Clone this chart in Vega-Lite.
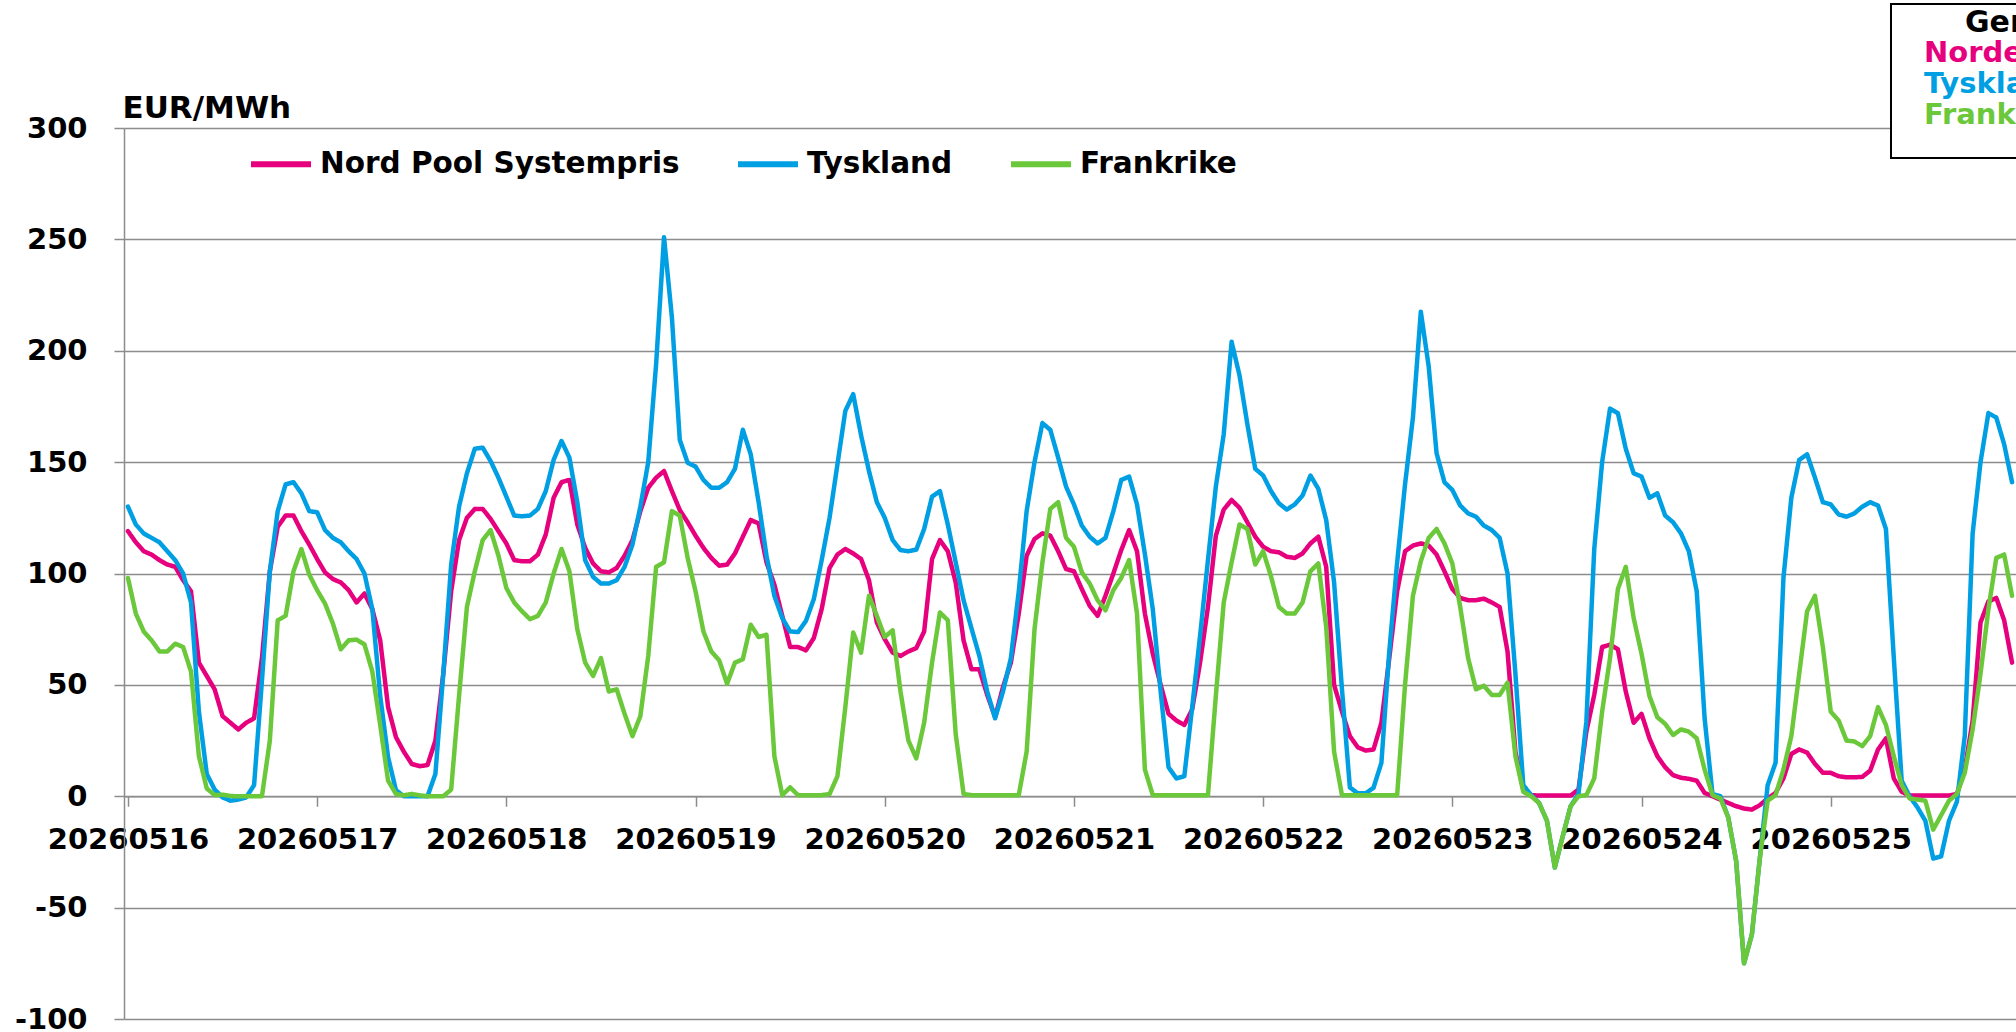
{
"$schema": "https://vega.github.io/schema/vega-lite/v6.json",
"autosize": {"type": "none"},
"padding": {"left": 124, "top": 128, "right": 0, "bottom": 13},
"width": 1892,
"height": 891,
"background": "white",
"config": {"view": {"stroke": null}, "font": "DejaVu Sans"},
"data": {"values": [
{"tid":"2026-05-16T00:00","Nord Pool Systempris":119,"Tyskland":130,"Frankrike":98},
{"tid":"2026-05-16T01:00","Nord Pool Systempris":114,"Tyskland":122,"Frankrike":82},
{"tid":"2026-05-16T02:00","Nord Pool Systempris":110,"Tyskland":118,"Frankrike":74},
{"tid":"2026-05-16T03:00","Nord Pool Systempris":108.5,"Tyskland":116,"Frankrike":70},
{"tid":"2026-05-16T04:00","Nord Pool Systempris":106,"Tyskland":114,"Frankrike":65},
{"tid":"2026-05-16T05:00","Nord Pool Systempris":104,"Tyskland":110,"Frankrike":65},
{"tid":"2026-05-16T06:00","Nord Pool Systempris":103,"Tyskland":106,"Frankrike":68.5},
{"tid":"2026-05-16T07:00","Nord Pool Systempris":97,"Tyskland":100,"Frankrike":67},
{"tid":"2026-05-16T08:00","Nord Pool Systempris":92,"Tyskland":87,"Frankrike":56},
{"tid":"2026-05-16T09:00","Nord Pool Systempris":60,"Tyskland":38,"Frankrike":18},
{"tid":"2026-05-16T10:00","Nord Pool Systempris":54,"Tyskland":10,"Frankrike":3.5},
{"tid":"2026-05-16T11:00","Nord Pool Systempris":48,"Tyskland":3,"Frankrike":0.5},
{"tid":"2026-05-16T12:00","Nord Pool Systempris":36,"Tyskland":-0.5,"Frankrike":0.7},
{"tid":"2026-05-16T13:00","Nord Pool Systempris":33,"Tyskland":-2,"Frankrike":0.1},
{"tid":"2026-05-16T14:00","Nord Pool Systempris":30,"Tyskland":-1.5,"Frankrike":0},
{"tid":"2026-05-16T15:00","Nord Pool Systempris":33,"Tyskland":-0.5,"Frankrike":0},
{"tid":"2026-05-16T16:00","Nord Pool Systempris":35,"Tyskland":5,"Frankrike":0},
{"tid":"2026-05-16T17:00","Nord Pool Systempris":62,"Tyskland":52,"Frankrike":0},
{"tid":"2026-05-16T18:00","Nord Pool Systempris":101,"Tyskland":101,"Frankrike":25},
{"tid":"2026-05-16T19:00","Nord Pool Systempris":121,"Tyskland":128,"Frankrike":79},
{"tid":"2026-05-16T20:00","Nord Pool Systempris":126,"Tyskland":140,"Frankrike":81},
{"tid":"2026-05-16T21:00","Nord Pool Systempris":126,"Tyskland":141,"Frankrike":101},
{"tid":"2026-05-16T22:00","Nord Pool Systempris":119,"Tyskland":136,"Frankrike":111},
{"tid":"2026-05-16T23:00","Nord Pool Systempris":113,"Tyskland":128,"Frankrike":99.5},
{"tid":"2026-05-17T00:00","Nord Pool Systempris":106.5,"Tyskland":127.5,"Frankrike":92.5},
{"tid":"2026-05-17T01:00","Nord Pool Systempris":100.5,"Tyskland":119.5,"Frankrike":86.5},
{"tid":"2026-05-17T02:00","Nord Pool Systempris":97.5,"Tyskland":116,"Frankrike":77.5},
{"tid":"2026-05-17T03:00","Nord Pool Systempris":96,"Tyskland":114,"Frankrike":66},
{"tid":"2026-05-17T04:00","Nord Pool Systempris":92.5,"Tyskland":110,"Frankrike":70},
{"tid":"2026-05-17T05:00","Nord Pool Systempris":87,"Tyskland":106.5,"Frankrike":70.3},
{"tid":"2026-05-17T06:00","Nord Pool Systempris":91,"Tyskland":100,"Frankrike":68.2},
{"tid":"2026-05-17T07:00","Nord Pool Systempris":84,"Tyskland":84,"Frankrike":56},
{"tid":"2026-05-17T08:00","Nord Pool Systempris":70,"Tyskland":45,"Frankrike":32},
{"tid":"2026-05-17T09:00","Nord Pool Systempris":40,"Tyskland":17.5,"Frankrike":7},
{"tid":"2026-05-17T10:00","Nord Pool Systempris":26.5,"Tyskland":2.7,"Frankrike":1},
{"tid":"2026-05-17T11:00","Nord Pool Systempris":20,"Tyskland":0,"Frankrike":0.4},
{"tid":"2026-05-17T12:00","Nord Pool Systempris":14.5,"Tyskland":0,"Frankrike":1},
{"tid":"2026-05-17T13:00","Nord Pool Systempris":13.5,"Tyskland":0,"Frankrike":0.4},
{"tid":"2026-05-17T14:00","Nord Pool Systempris":14,"Tyskland":0,"Frankrike":0},
{"tid":"2026-05-17T15:00","Nord Pool Systempris":25,"Tyskland":10,"Frankrike":0},
{"tid":"2026-05-17T16:00","Nord Pool Systempris":55,"Tyskland":55,"Frankrike":0},
{"tid":"2026-05-17T17:00","Nord Pool Systempris":92,"Tyskland":104,"Frankrike":3},
{"tid":"2026-05-17T18:00","Nord Pool Systempris":115,"Tyskland":130,"Frankrike":45},
{"tid":"2026-05-17T19:00","Nord Pool Systempris":125,"Tyskland":145,"Frankrike":85},
{"tid":"2026-05-17T20:00","Nord Pool Systempris":129,"Tyskland":156,"Frankrike":101},
{"tid":"2026-05-17T21:00","Nord Pool Systempris":129,"Tyskland":156.5,"Frankrike":115},
{"tid":"2026-05-17T22:00","Nord Pool Systempris":124.5,"Tyskland":150.5,"Frankrike":119.5},
{"tid":"2026-05-17T23:00","Nord Pool Systempris":119,"Tyskland":143,"Frankrike":108},
{"tid":"2026-05-18T00:00","Nord Pool Systempris":113.5,"Tyskland":134.5,"Frankrike":93.5},
{"tid":"2026-05-18T01:00","Nord Pool Systempris":106,"Tyskland":126,"Frankrike":87},
{"tid":"2026-05-18T02:00","Nord Pool Systempris":105.5,"Tyskland":125.7,"Frankrike":83},
{"tid":"2026-05-18T03:00","Nord Pool Systempris":105.5,"Tyskland":126,"Frankrike":79.5},
{"tid":"2026-05-18T04:00","Nord Pool Systempris":108.5,"Tyskland":129,"Frankrike":81},
{"tid":"2026-05-18T05:00","Nord Pool Systempris":117.5,"Tyskland":137,"Frankrike":87},
{"tid":"2026-05-18T06:00","Nord Pool Systempris":134,"Tyskland":151,"Frankrike":100},
{"tid":"2026-05-18T07:00","Nord Pool Systempris":141,"Tyskland":159.5,"Frankrike":111},
{"tid":"2026-05-18T08:00","Nord Pool Systempris":142,"Tyskland":152,"Frankrike":101},
{"tid":"2026-05-18T09:00","Nord Pool Systempris":122,"Tyskland":132,"Frankrike":75},
{"tid":"2026-05-18T10:00","Nord Pool Systempris":111.5,"Tyskland":106,"Frankrike":60},
{"tid":"2026-05-18T11:00","Nord Pool Systempris":104.5,"Tyskland":98.5,"Frankrike":54},
{"tid":"2026-05-18T12:00","Nord Pool Systempris":101,"Tyskland":95.5,"Frankrike":62},
{"tid":"2026-05-18T13:00","Nord Pool Systempris":100.5,"Tyskland":95.5,"Frankrike":47},
{"tid":"2026-05-18T14:00","Nord Pool Systempris":102.5,"Tyskland":97,"Frankrike":48},
{"tid":"2026-05-18T15:00","Nord Pool Systempris":108,"Tyskland":103,"Frankrike":37},
{"tid":"2026-05-18T16:00","Nord Pool Systempris":115,"Tyskland":113,"Frankrike":27},
{"tid":"2026-05-18T17:00","Nord Pool Systempris":128,"Tyskland":130,"Frankrike":36},
{"tid":"2026-05-18T18:00","Nord Pool Systempris":138.5,"Tyskland":150,"Frankrike":63},
{"tid":"2026-05-18T19:00","Nord Pool Systempris":143,"Tyskland":194,"Frankrike":103},
{"tid":"2026-05-18T20:00","Nord Pool Systempris":146,"Tyskland":251,"Frankrike":105},
{"tid":"2026-05-18T21:00","Nord Pool Systempris":137,"Tyskland":215,"Frankrike":128},
{"tid":"2026-05-18T22:00","Nord Pool Systempris":128.5,"Tyskland":160,"Frankrike":126},
{"tid":"2026-05-18T23:00","Nord Pool Systempris":123,"Tyskland":149.7,"Frankrike":107},
{"tid":"2026-05-19T00:00","Nord Pool Systempris":117,"Tyskland":148,"Frankrike":92},
{"tid":"2026-05-19T01:00","Nord Pool Systempris":111.5,"Tyskland":142,"Frankrike":74},
{"tid":"2026-05-19T02:00","Nord Pool Systempris":107,"Tyskland":138.5,"Frankrike":65},
{"tid":"2026-05-19T03:00","Nord Pool Systempris":103.5,"Tyskland":138.5,"Frankrike":61},
{"tid":"2026-05-19T04:00","Nord Pool Systempris":104,"Tyskland":141,"Frankrike":50.5},
{"tid":"2026-05-19T05:00","Nord Pool Systempris":109,"Tyskland":147,"Frankrike":60},
{"tid":"2026-05-19T06:00","Nord Pool Systempris":116.5,"Tyskland":164.5,"Frankrike":61.5},
{"tid":"2026-05-19T07:00","Nord Pool Systempris":124,"Tyskland":153.5,"Frankrike":77},
{"tid":"2026-05-19T08:00","Nord Pool Systempris":122.5,"Tyskland":132,"Frankrike":71.5},
{"tid":"2026-05-19T09:00","Nord Pool Systempris":105,"Tyskland":108,"Frankrike":72.5},
{"tid":"2026-05-19T10:00","Nord Pool Systempris":95,"Tyskland":90,"Frankrike":18},
{"tid":"2026-05-19T11:00","Nord Pool Systempris":81,"Tyskland":80,"Frankrike":0.5},
{"tid":"2026-05-19T12:00","Nord Pool Systempris":67,"Tyskland":74,"Frankrike":4},
{"tid":"2026-05-19T13:00","Nord Pool Systempris":67,"Tyskland":73.7,"Frankrike":0.5},
{"tid":"2026-05-19T14:00","Nord Pool Systempris":65.5,"Tyskland":78.7,"Frankrike":0.5},
{"tid":"2026-05-19T15:00","Nord Pool Systempris":71,"Tyskland":88.5,"Frankrike":0.5},
{"tid":"2026-05-19T16:00","Nord Pool Systempris":84,"Tyskland":106,"Frankrike":0.5},
{"tid":"2026-05-19T17:00","Nord Pool Systempris":102.5,"Tyskland":125,"Frankrike":1},
{"tid":"2026-05-19T18:00","Nord Pool Systempris":108.5,"Tyskland":149,"Frankrike":9},
{"tid":"2026-05-19T19:00","Nord Pool Systempris":111,"Tyskland":173,"Frankrike":40},
{"tid":"2026-05-19T20:00","Nord Pool Systempris":109,"Tyskland":180.5,"Frankrike":73.5},
{"tid":"2026-05-19T21:00","Nord Pool Systempris":106.5,"Tyskland":162,"Frankrike":64.5},
{"tid":"2026-05-19T22:00","Nord Pool Systempris":97,"Tyskland":146,"Frankrike":90},
{"tid":"2026-05-19T23:00","Nord Pool Systempris":78,"Tyskland":132,"Frankrike":81},
{"tid":"2026-05-20T00:00","Nord Pool Systempris":70.5,"Tyskland":125,"Frankrike":71.5},
{"tid":"2026-05-20T01:00","Nord Pool Systempris":64.5,"Tyskland":115,"Frankrike":74.5},
{"tid":"2026-05-20T02:00","Nord Pool Systempris":63,"Tyskland":110.5,"Frankrike":47},
{"tid":"2026-05-20T03:00","Nord Pool Systempris":65,"Tyskland":110,"Frankrike":25},
{"tid":"2026-05-20T04:00","Nord Pool Systempris":66.5,"Tyskland":110.7,"Frankrike":17},
{"tid":"2026-05-20T05:00","Nord Pool Systempris":74,"Tyskland":120,"Frankrike":33},
{"tid":"2026-05-20T06:00","Nord Pool Systempris":106.5,"Tyskland":134.5,"Frankrike":60},
{"tid":"2026-05-20T07:00","Nord Pool Systempris":115,"Tyskland":137,"Frankrike":82.5},
{"tid":"2026-05-20T08:00","Nord Pool Systempris":110,"Tyskland":122,"Frankrike":79},
{"tid":"2026-05-20T09:00","Nord Pool Systempris":96,"Tyskland":105,"Frankrike":28},
{"tid":"2026-05-20T10:00","Nord Pool Systempris":70,"Tyskland":88,"Frankrike":1},
{"tid":"2026-05-20T11:00","Nord Pool Systempris":57,"Tyskland":75.4,"Frankrike":0.5},
{"tid":"2026-05-20T12:00","Nord Pool Systempris":57,"Tyskland":63,"Frankrike":0.5},
{"tid":"2026-05-20T13:00","Nord Pool Systempris":45.5,"Tyskland":47,"Frankrike":0.5},
{"tid":"2026-05-20T14:00","Nord Pool Systempris":35.5,"Tyskland":35,"Frankrike":0.5},
{"tid":"2026-05-20T15:00","Nord Pool Systempris":49,"Tyskland":47,"Frankrike":0.5},
{"tid":"2026-05-20T16:00","Nord Pool Systempris":60,"Tyskland":62,"Frankrike":0.5},
{"tid":"2026-05-20T17:00","Nord Pool Systempris":82,"Tyskland":92,"Frankrike":0.5},
{"tid":"2026-05-20T18:00","Nord Pool Systempris":108,"Tyskland":128,"Frankrike":20},
{"tid":"2026-05-20T19:00","Nord Pool Systempris":115.5,"Tyskland":150,"Frankrike":75},
{"tid":"2026-05-20T20:00","Nord Pool Systempris":118,"Tyskland":167.5,"Frankrike":105},
{"tid":"2026-05-20T21:00","Nord Pool Systempris":117,"Tyskland":164.5,"Frankrike":129},
{"tid":"2026-05-20T22:00","Nord Pool Systempris":110,"Tyskland":152,"Frankrike":132},
{"tid":"2026-05-20T23:00","Nord Pool Systempris":102,"Tyskland":139,"Frankrike":116},
{"tid":"2026-05-21T00:00","Nord Pool Systempris":101,"Tyskland":131,"Frankrike":112},
{"tid":"2026-05-21T01:00","Nord Pool Systempris":93,"Tyskland":121.5,"Frankrike":100.5},
{"tid":"2026-05-21T02:00","Nord Pool Systempris":85.5,"Tyskland":116.5,"Frankrike":95.5},
{"tid":"2026-05-21T03:00","Nord Pool Systempris":81,"Tyskland":113.5,"Frankrike":88},
{"tid":"2026-05-21T04:00","Nord Pool Systempris":90,"Tyskland":116,"Frankrike":83.5},
{"tid":"2026-05-21T05:00","Nord Pool Systempris":100,"Tyskland":128,"Frankrike":92.5},
{"tid":"2026-05-21T06:00","Nord Pool Systempris":110.5,"Tyskland":142,"Frankrike":98},
{"tid":"2026-05-21T07:00","Nord Pool Systempris":119.5,"Tyskland":143.5,"Frankrike":106},
{"tid":"2026-05-21T08:00","Nord Pool Systempris":110,"Tyskland":131,"Frankrike":82},
{"tid":"2026-05-21T09:00","Nord Pool Systempris":82,"Tyskland":108.7,"Frankrike":12},
{"tid":"2026-05-21T10:00","Nord Pool Systempris":64,"Tyskland":84,"Frankrike":0.5},
{"tid":"2026-05-21T11:00","Nord Pool Systempris":50,"Tyskland":47,"Frankrike":0.5},
{"tid":"2026-05-21T12:00","Nord Pool Systempris":37,"Tyskland":13,"Frankrike":0.5},
{"tid":"2026-05-21T13:00","Nord Pool Systempris":34,"Tyskland":8,"Frankrike":0.5},
{"tid":"2026-05-21T14:00","Nord Pool Systempris":32,"Tyskland":9,"Frankrike":0.5},
{"tid":"2026-05-21T15:00","Nord Pool Systempris":39,"Tyskland":40,"Frankrike":0.5},
{"tid":"2026-05-21T16:00","Nord Pool Systempris":60,"Tyskland":72,"Frankrike":0.5},
{"tid":"2026-05-21T17:00","Nord Pool Systempris":85,"Tyskland":106,"Frankrike":0.5},
{"tid":"2026-05-21T18:00","Nord Pool Systempris":117,"Tyskland":139,"Frankrike":45},
{"tid":"2026-05-21T19:00","Nord Pool Systempris":128.7,"Tyskland":162.5,"Frankrike":87},
{"tid":"2026-05-21T20:00","Nord Pool Systempris":133,"Tyskland":204,"Frankrike":105},
{"tid":"2026-05-21T21:00","Nord Pool Systempris":129.5,"Tyskland":189,"Frankrike":122},
{"tid":"2026-05-21T22:00","Nord Pool Systempris":123,"Tyskland":167,"Frankrike":120},
{"tid":"2026-05-21T23:00","Nord Pool Systempris":116.5,"Tyskland":147,"Frankrike":104},
{"tid":"2026-05-22T00:00","Nord Pool Systempris":112,"Tyskland":144,"Frankrike":110},
{"tid":"2026-05-22T01:00","Nord Pool Systempris":110,"Tyskland":137,"Frankrike":98.7},
{"tid":"2026-05-22T02:00","Nord Pool Systempris":109.5,"Tyskland":131.5,"Frankrike":85},
{"tid":"2026-05-22T03:00","Nord Pool Systempris":107.5,"Tyskland":128.7,"Frankrike":82},
{"tid":"2026-05-22T04:00","Nord Pool Systempris":107,"Tyskland":131,"Frankrike":82},
{"tid":"2026-05-22T05:00","Nord Pool Systempris":109,"Tyskland":135,"Frankrike":87},
{"tid":"2026-05-22T06:00","Nord Pool Systempris":113.5,"Tyskland":144,"Frankrike":101},
{"tid":"2026-05-22T07:00","Nord Pool Systempris":116.5,"Tyskland":138,"Frankrike":104.5},
{"tid":"2026-05-22T08:00","Nord Pool Systempris":103,"Tyskland":124,"Frankrike":76},
{"tid":"2026-05-22T09:00","Nord Pool Systempris":50,"Tyskland":96,"Frankrike":20},
{"tid":"2026-05-22T10:00","Nord Pool Systempris":38,"Tyskland":48,"Frankrike":0.5},
{"tid":"2026-05-22T11:00","Nord Pool Systempris":27,"Tyskland":4,"Frankrike":0.5},
{"tid":"2026-05-22T12:00","Nord Pool Systempris":22,"Tyskland":1.3,"Frankrike":0.5},
{"tid":"2026-05-22T13:00","Nord Pool Systempris":20.5,"Tyskland":1.3,"Frankrike":0.5},
{"tid":"2026-05-22T14:00","Nord Pool Systempris":21,"Tyskland":3.8,"Frankrike":0.5},
{"tid":"2026-05-22T15:00","Nord Pool Systempris":33,"Tyskland":15,"Frankrike":0.5},
{"tid":"2026-05-22T16:00","Nord Pool Systempris":62,"Tyskland":65,"Frankrike":0.5},
{"tid":"2026-05-22T17:00","Nord Pool Systempris":92,"Tyskland":105,"Frankrike":0.5},
{"tid":"2026-05-22T18:00","Nord Pool Systempris":110,"Tyskland":140,"Frankrike":50},
{"tid":"2026-05-22T19:00","Nord Pool Systempris":112.5,"Tyskland":170,"Frankrike":90},
{"tid":"2026-05-22T20:00","Nord Pool Systempris":113.5,"Tyskland":217.5,"Frankrike":105.5},
{"tid":"2026-05-22T21:00","Nord Pool Systempris":112.5,"Tyskland":193,"Frankrike":116},
{"tid":"2026-05-22T22:00","Nord Pool Systempris":108.5,"Tyskland":154,"Frankrike":120},
{"tid":"2026-05-22T23:00","Nord Pool Systempris":101,"Tyskland":141,"Frankrike":113.5},
{"tid":"2026-05-23T00:00","Nord Pool Systempris":93,"Tyskland":137.5,"Frankrike":104.5},
{"tid":"2026-05-23T01:00","Nord Pool Systempris":89,"Tyskland":130.5,"Frankrike":85},
{"tid":"2026-05-23T02:00","Nord Pool Systempris":88,"Tyskland":127,"Frankrike":62},
{"tid":"2026-05-23T03:00","Nord Pool Systempris":88,"Tyskland":125.5,"Frankrike":48},
{"tid":"2026-05-23T04:00","Nord Pool Systempris":88.7,"Tyskland":121.5,"Frankrike":49.6},
{"tid":"2026-05-23T05:00","Nord Pool Systempris":87,"Tyskland":119.5,"Frankrike":45.5},
{"tid":"2026-05-23T06:00","Nord Pool Systempris":85,"Tyskland":116,"Frankrike":45.5},
{"tid":"2026-05-23T07:00","Nord Pool Systempris":65,"Tyskland":100,"Frankrike":51},
{"tid":"2026-05-23T08:00","Nord Pool Systempris":20,"Tyskland":55,"Frankrike":18},
{"tid":"2026-05-23T09:00","Nord Pool Systempris":3,"Tyskland":5,"Frankrike":2},
{"tid":"2026-05-23T10:00","Nord Pool Systempris":0.5,"Tyskland":0.5,"Frankrike":0},
{"tid":"2026-05-23T11:00","Nord Pool Systempris":0.3,"Tyskland":-3,"Frankrike":-3},
{"tid":"2026-05-23T12:00","Nord Pool Systempris":0.3,"Tyskland":-11,"Frankrike":-11},
{"tid":"2026-05-23T13:00","Nord Pool Systempris":0.3,"Tyskland":-32,"Frankrike":-32},
{"tid":"2026-05-23T14:00","Nord Pool Systempris":0.3,"Tyskland":-18,"Frankrike":-18},
{"tid":"2026-05-23T15:00","Nord Pool Systempris":0.3,"Tyskland":-4.5,"Frankrike":-4.5},
{"tid":"2026-05-23T16:00","Nord Pool Systempris":3,"Tyskland":1,"Frankrike":0},
{"tid":"2026-05-23T17:00","Nord Pool Systempris":29,"Tyskland":33.5,"Frankrike":0.5},
{"tid":"2026-05-23T18:00","Nord Pool Systempris":45.5,"Tyskland":111,"Frankrike":8},
{"tid":"2026-05-23T19:00","Nord Pool Systempris":67,"Tyskland":150,"Frankrike":38},
{"tid":"2026-05-23T20:00","Nord Pool Systempris":68,"Tyskland":174,"Frankrike":62},
{"tid":"2026-05-23T21:00","Nord Pool Systempris":66,"Tyskland":172,"Frankrike":93},
{"tid":"2026-05-23T22:00","Nord Pool Systempris":47,"Tyskland":156,"Frankrike":103},
{"tid":"2026-05-23T23:00","Nord Pool Systempris":33,"Tyskland":145,"Frankrike":80},
{"tid":"2026-05-24T00:00","Nord Pool Systempris":37,"Tyskland":143.5,"Frankrike":64},
{"tid":"2026-05-24T01:00","Nord Pool Systempris":26,"Tyskland":134,"Frankrike":45},
{"tid":"2026-05-24T02:00","Nord Pool Systempris":18,"Tyskland":136,"Frankrike":35.5},
{"tid":"2026-05-24T03:00","Nord Pool Systempris":13,"Tyskland":126,"Frankrike":32.5},
{"tid":"2026-05-24T04:00","Nord Pool Systempris":9.5,"Tyskland":123,"Frankrike":27.5},
{"tid":"2026-05-24T05:00","Nord Pool Systempris":8.3,"Tyskland":118,"Frankrike":30},
{"tid":"2026-05-24T06:00","Nord Pool Systempris":7.8,"Tyskland":110,"Frankrike":29},
{"tid":"2026-05-24T07:00","Nord Pool Systempris":7,"Tyskland":92,"Frankrike":26},
{"tid":"2026-05-24T08:00","Nord Pool Systempris":1.5,"Tyskland":35,"Frankrike":12},
{"tid":"2026-05-24T09:00","Nord Pool Systempris":0,"Tyskland":1,"Frankrike":0.5},
{"tid":"2026-05-24T10:00","Nord Pool Systempris":-1.5,"Tyskland":0,"Frankrike":-1},
{"tid":"2026-05-24T11:00","Nord Pool Systempris":-3,"Tyskland":-9.5,"Frankrike":-9.5},
{"tid":"2026-05-24T12:00","Nord Pool Systempris":-4.5,"Tyskland":-29,"Frankrike":-29},
{"tid":"2026-05-24T13:00","Nord Pool Systempris":-5.5,"Tyskland":-75,"Frankrike":-75},
{"tid":"2026-05-24T14:00","Nord Pool Systempris":-6,"Tyskland":-62,"Frankrike":-62},
{"tid":"2026-05-24T15:00","Nord Pool Systempris":-4,"Tyskland":-28,"Frankrike":-28},
{"tid":"2026-05-24T16:00","Nord Pool Systempris":-1,"Tyskland":5,"Frankrike":-2},
{"tid":"2026-05-24T17:00","Nord Pool Systempris":1.5,"Tyskland":15,"Frankrike":0.5},
{"tid":"2026-05-24T18:00","Nord Pool Systempris":8,"Tyskland":98,"Frankrike":12},
{"tid":"2026-05-24T19:00","Nord Pool Systempris":19,"Tyskland":134,"Frankrike":27},
{"tid":"2026-05-24T20:00","Nord Pool Systempris":21,"Tyskland":151,"Frankrike":55},
{"tid":"2026-05-24T21:00","Nord Pool Systempris":19.6,"Tyskland":153.5,"Frankrike":83},
{"tid":"2026-05-24T22:00","Nord Pool Systempris":14.5,"Tyskland":143,"Frankrike":90},
{"tid":"2026-05-24T23:00","Nord Pool Systempris":10.5,"Tyskland":132,"Frankrike":67},
{"tid":"2026-05-25T00:00","Nord Pool Systempris":10.5,"Tyskland":131,"Frankrike":38},
{"tid":"2026-05-25T01:00","Nord Pool Systempris":9,"Tyskland":126.5,"Frankrike":34},
{"tid":"2026-05-25T02:00","Nord Pool Systempris":8.5,"Tyskland":125.5,"Frankrike":25},
{"tid":"2026-05-25T03:00","Nord Pool Systempris":8.5,"Tyskland":127,"Frankrike":24.6},
{"tid":"2026-05-25T04:00","Nord Pool Systempris":8.7,"Tyskland":130,"Frankrike":22.5},
{"tid":"2026-05-25T05:00","Nord Pool Systempris":11.5,"Tyskland":132,"Frankrike":27},
{"tid":"2026-05-25T06:00","Nord Pool Systempris":21,"Tyskland":130.5,"Frankrike":40},
{"tid":"2026-05-25T07:00","Nord Pool Systempris":26,"Tyskland":120,"Frankrike":32},
{"tid":"2026-05-25T08:00","Nord Pool Systempris":8,"Tyskland":62,"Frankrike":18},
{"tid":"2026-05-25T09:00","Nord Pool Systempris":2,"Tyskland":7,"Frankrike":5},
{"tid":"2026-05-25T10:00","Nord Pool Systempris":0.3,"Tyskland":0,"Frankrike":-1},
{"tid":"2026-05-25T11:00","Nord Pool Systempris":0.3,"Tyskland":-5,"Frankrike":-1.5},
{"tid":"2026-05-25T12:00","Nord Pool Systempris":0.3,"Tyskland":-11,"Frankrike":-2},
{"tid":"2026-05-25T13:00","Nord Pool Systempris":0.3,"Tyskland":-28,"Frankrike":-15},
{"tid":"2026-05-25T14:00","Nord Pool Systempris":0.3,"Tyskland":-27,"Frankrike":-8.5},
{"tid":"2026-05-25T15:00","Nord Pool Systempris":0.3,"Tyskland":-11,"Frankrike":-2},
{"tid":"2026-05-25T16:00","Nord Pool Systempris":1,"Tyskland":-2.5,"Frankrike":1},
{"tid":"2026-05-25T17:00","Nord Pool Systempris":12,"Tyskland":27,"Frankrike":10.5},
{"tid":"2026-05-25T18:00","Nord Pool Systempris":34,"Tyskland":118,"Frankrike":30},
{"tid":"2026-05-25T19:00","Nord Pool Systempris":78,"Tyskland":150,"Frankrike":55},
{"tid":"2026-05-25T20:00","Nord Pool Systempris":87.5,"Tyskland":172,"Frankrike":84},
{"tid":"2026-05-25T21:00","Nord Pool Systempris":89,"Tyskland":170,"Frankrike":107},
{"tid":"2026-05-25T22:00","Nord Pool Systempris":79,"Tyskland":158,"Frankrike":108.5},
{"tid":"2026-05-25T23:00","Nord Pool Systempris":60,"Tyskland":141,"Frankrike":90}
]},
"transform": [{"fold": ["Nord Pool Systempris", "Tyskland", "Frankrike"], "as": ["serie", "pris"]}],
"mark": {"type": "line", "strokeWidth": 4.5, "strokeJoin": "round", "strokeCap": "round", "clip": true},
"encoding": {
  "x": {"field": "tid", "type": "temporal",
    "scale": {"domain": [{"year": 2026, "month": 5, "date": 15, "hours": 23, "minutes": 30}, {"year": 2026, "month": 5, "date": 25, "hours": 23, "minutes": 30}]},
    "axis": {"title": null, "format": "%Y%m%d", "tickCount": {"interval": "day", "step": 1}, "offset": -222.75, "grid": false,
      "domainColor": "#8c8c8c", "domainWidth": 1.5, "tickColor": "#8c8c8c", "tickWidth": 1.5, "tickSize": 10,
      "labelFont": "DejaVu Sans", "labelFontWeight": "bold", "labelFontSize": 29, "labelColor": "black", "labelPadding": 19,
      "labelOverlap": false, "labelFlush": false, "labelBound": false}},
  "y": {"field": "pris", "type": "quantitative",
    "scale": {"domain": [-100, 300], "nice": false, "zero": false},
    "axis": {"values": [-100, -50, 0, 50, 100, 150, 200, 250, 300], "grid": true, "gridColor": "#8c8c8c", "gridWidth": 1.5,
      "domainColor": "#8c8c8c", "domainWidth": 1.5, "tickColor": "#8c8c8c", "tickWidth": 1.5, "tickSize": 10,
      "labelFont": "DejaVu Sans", "labelFontWeight": "bold", "labelFontSize": 29, "labelColor": "black", "labelPadding": 27,
      "labelOverlap": false, "labelFlush": false, "labelExpr": "'' + datum.value",
      "title": "EUR/MWh", "titleAngle": 0, "titleX": -2, "titleY": -11, "titleAlign": "left", "titleBaseline": "alphabetic",
      "titleFont": "DejaVu Sans", "titleFontSize": 31, "titleFontWeight": "bold", "titleColor": "black"}},
  "color": {"field": "serie", "type": "nominal",
    "scale": {"domain": ["Nord Pool Systempris", "Tyskland", "Frankrike"], "range": ["#E6007E", "#009FE3", "#6BC83A"]},
    "legend": {"orient": "none", "legendX": 124, "legendY": 3, "direction": "horizontal", "title": null,
      "symbolType": "stroke", "symbolSize": 3600, "symbolStrokeWidth": 6, "padding": 0,
      "labelFont": "DejaVu Sans", "labelFontSize": 29.5, "labelFontWeight": "bold", "labelColor": "black",
      "labelOffset": 6, "labelLimit": 800, "columnPadding": 46}},
  "strokeDash": {"field": "serie", "type": "nominal",
    "scale": {"domain": ["Nord Pool Systempris", "Tyskland", "Frankrike", " "], "range": [[1, 0], [1, 0], [1, 0], [1, 0]]},
    "legend": {"orient": "none", "legendX": 1767, "legendY": -124, "direction": "vertical",
      "title": "Genomsnitt", "titleFont": "DejaVu Sans", "titleFontSize": 30, "titleFontWeight": "bold", "titleColor": "black",
      "titleAnchor": "start", "titleAlign": "left", "titlePadding": 0, "titleLimit": 1000,
      "labelFont": "DejaVu Sans", "labelFontSize": 29, "labelFontWeight": "bold", "labelOffset": 0, "labelLimit": 1000,
      "labelExpr": "datum.label == 'Nord Pool Systempris' ? 'Norden' : datum.label",
      "symbolSize": 0, "symbolStrokeWidth": 0, "symbolOpacity": 0, "rowPadding": 1, "padding": 4,
      "fillColor": "white", "strokeColor": "black",
      "encode": {
        "labels": {"update": {"fill": {"signal": "scale('color', datum.value)"}, "fontSize": {"signal": "datum.value == ' ' ? 17 : 29"}}},
        "title": {"update": {"dx": {"value": 70}}},
        "legend": {"update": {"strokeWidth": {"value": 2}}}
      }}}
}
}
